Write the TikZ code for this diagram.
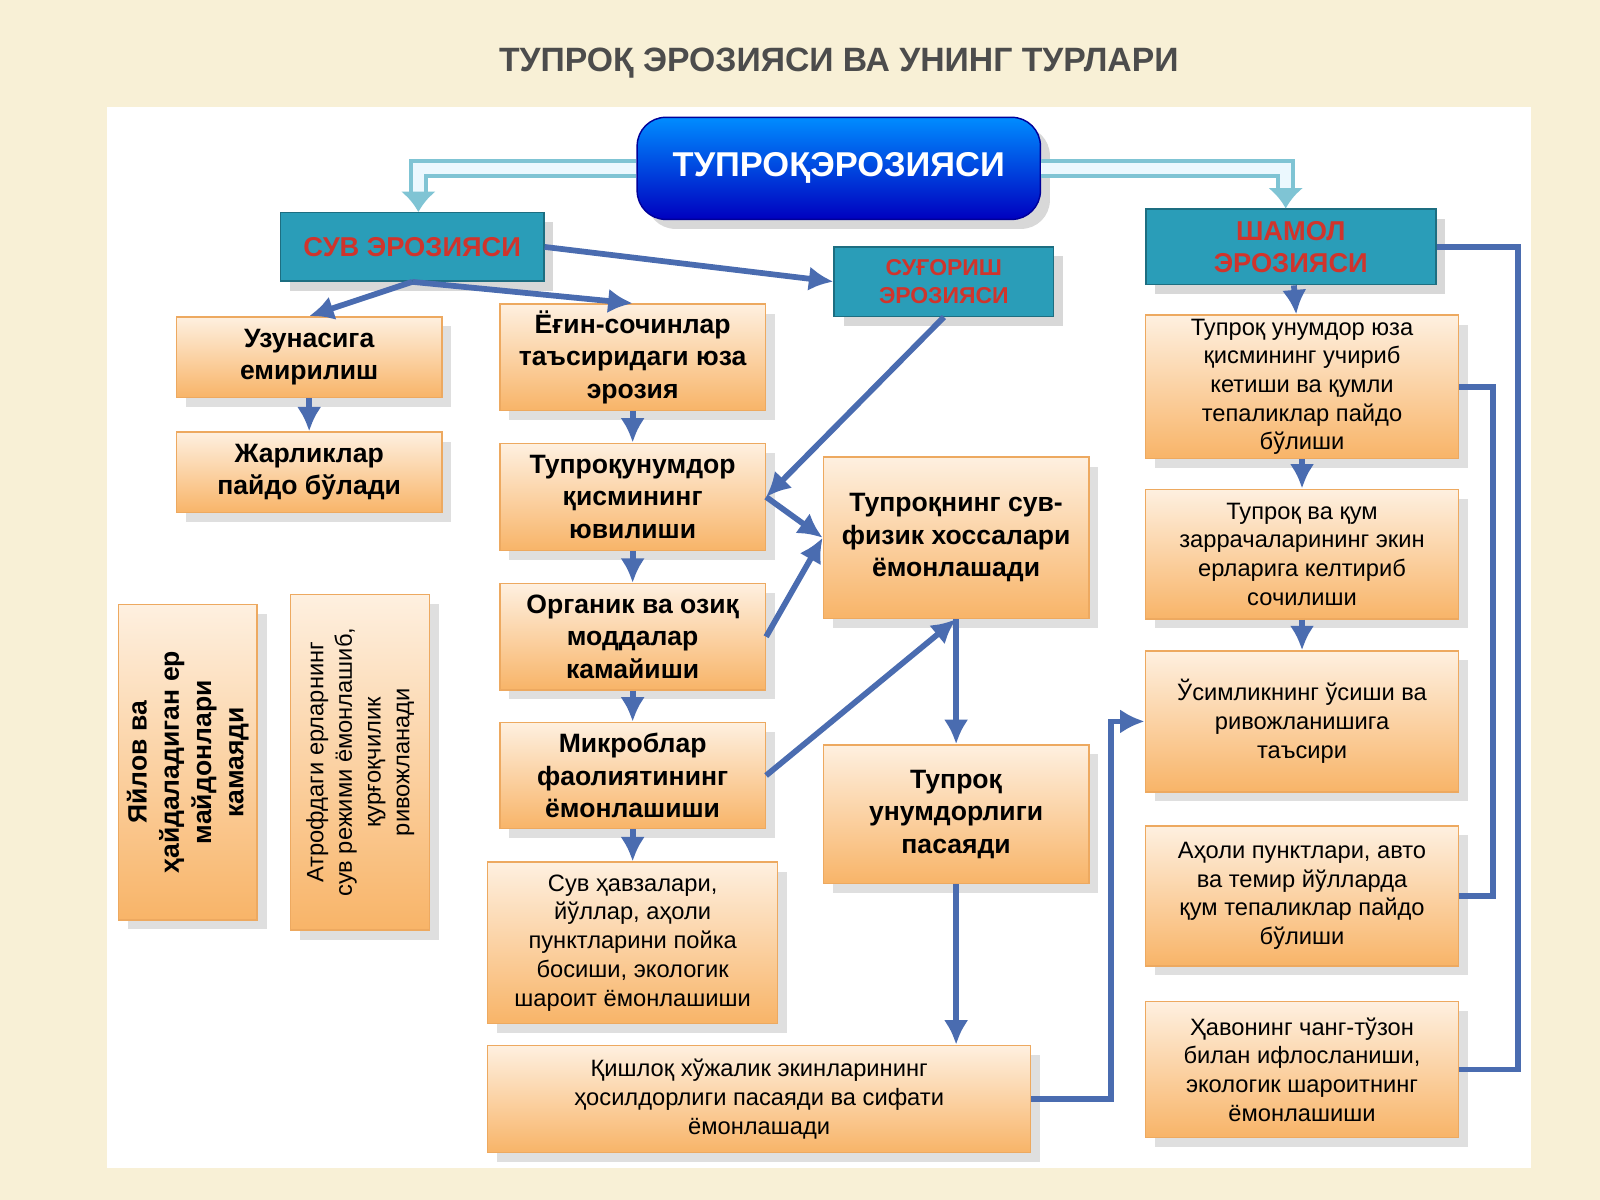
\documentclass[tikz,border=0pt]{standalone}
\usepackage{fontspec}
\setmainfont{Liberation Sans}
\usetikzlibrary{arrows.meta,positioning,shadows}
\definecolor{cream}{HTML}{F8F0D6}
\definecolor{teal}{HTML}{2A9DB8}
\definecolor{redt}{HTML}{D0342C}
\definecolor{lnk}{HTML}{4A6CB0}
\definecolor{ora}{HTML}{F8B468}
\definecolor{pea}{HTML}{FEF0E0}
\begin{document}
\begin{tikzpicture}[x=0.01cm,y=-0.01cm,font=\fontsize{7.4}{9}\selectfont]
  % Node styles
  \tikzstyle{comp}=[draw=ora!80!brown,top color=pea,bottom color=ora,align=center,inner sep=1pt,drop shadow={opacity=0.25}]
  \tikzstyle{head}=[draw=teal!70!black,fill=teal,align=center,text=redt,font=\fontsize{7.6}{9}\selectfont\bfseries,drop shadow={opacity=0.3}]
  \tikzstyle{link}=[draw=lnk,line width=1.6pt,-{Latex[length=2.4mm,width=2.4mm]}]
  \tikzstyle{side}=[draw=lnk,line width=1.6pt]
  \tikzstyle{dbl}=[draw=teal!60,double=cyan!8,double distance=3pt,line width=1.2pt,-{Latex[length=2mm,width=3.5mm]}]

  \fill[cream] (0,0) rectangle (1568,1176);
  \useasboundingbox (0,0) rectangle (1568,1176);
  \fill[white] (105,105) rectangle (1500,1145);
  \node[font=\fontsize{9.4}{11}\selectfont\bfseries,text=black!70] (title) at (822,62) {ТУПРОҚ ЭРОЗИЯСИ ВА УНИНГ ТУРЛАРИ};

  % Headers
  \node[draw=blue!60!black,rounded corners=8pt,top color=blue!45!cyan,bottom color=blue!75!black,minimum width=3.95cm,minimum height=1cm,text=white,font=\fontsize{9.6}{11}\selectfont\bfseries,drop shadow={opacity=0.3}] (main) at (822,165) {ТУПРОҚЭРОЗИЯСИ};
  \node[head,minimum width=2.58cm,minimum height=0.67cm] (suv) at (404,242) {СУВ ЭРОЗИЯСИ};
  \node[head,minimum width=2.15cm,minimum height=0.68cm,font=\fontsize{6.4}{7.6}\selectfont\bfseries] (sug) at (925,276) {СУҒОРИШ\\ЭРОЗИЯСИ};
  \node[head,minimum width=2.84cm,minimum height=0.67cm] (sham) at (1265,242) {ШАМОЛ\\ЭРОЗИЯСИ};

  % Left boxes
  \node[comp,font=\fontsize{7.4}{9}\selectfont\bfseries,minimum width=2.6cm,minimum height=0.79cm] (uzun) at (303,350) {Узунасига\\емирилиш};
  \node[comp,font=\fontsize{7.4}{9}\selectfont\bfseries,minimum width=2.6cm,minimum height=0.79cm] (jar) at (303,463) {Жарликлар\\пайдо бўлади};
  \node[comp,font=\fontsize{7.4}{9}\selectfont\bfseries,minimum width=2.6cm,minimum height=1.04cm] (yogin) at (620,350) {Ёғин-сочинлар\\таъсиридаги юза\\эрозия};
  \node[comp,font=\fontsize{7.4}{9}\selectfont\bfseries,minimum width=2.6cm,minimum height=1.05cm] (yuv) at (620,487) {Тупроқунумдор\\қисмининг\\ювилиши};
  \node[comp,font=\fontsize{7.4}{9}\selectfont\bfseries,minimum width=2.6cm,minimum height=1.04cm] (org) at (620,624) {Органик ва озиқ\\моддалар\\камайиши};
  \node[comp,font=\fontsize{7.4}{9}\selectfont\bfseries,minimum width=2.6cm,minimum height=1.04cm] (mik) at (620,760) {Микроблар\\фаолиятининг\\ёмонлашиши};
  \node[comp,font=\fontsize{6.6}{8}\selectfont,minimum width=2.84cm,minimum height=1.58cm] (havz) at (620,924) {Сув ҳавзалари,\\йўллар, аҳоли\\пунктларини пойка\\босиши, экологик\\шароит ёмонлашиши};
  \node[comp,font=\fontsize{6.6}{8}\selectfont,minimum width=5.32cm,minimum height=1.05cm] (qish) at (744,1077) {Қишлоқ хўжалик экинларининг\\ҳосилдорлиги пасаяди ва сифати\\ёмонлашади};
  \node[comp,font=\fontsize{7.4}{9}\selectfont\bfseries,minimum width=2.6cm,minimum height=1.58cm] (fiz) at (937,527) {Тупроқнинг сув-\\физик хоссалари\\ёмонлашади};
  \node[comp,font=\fontsize{7.4}{9}\selectfont\bfseries,minimum width=2.6cm,minimum height=1.36cm] (unum) at (937,798) {Тупроқ\\унумдорлиги\\пасаяди};
  \node[comp,font=\fontsize{7.4}{9}\selectfont\bfseries,minimum width=3.09cm,minimum height=1.36cm,rotate=90] (yay) at (184,747) {Яйлов ва\\ҳайдаладиган ер\\майдонлари\\камаяди};
  \node[comp,font=\fontsize{6.6}{8}\selectfont,minimum width=3.29cm,minimum height=1.36cm,rotate=90] (atr) at (353,747) {Атрофдаги ерларнинг\\сув режими ёмонлашиб,\\қурғоқчилик\\ривожланади};

  % Right column
  \node[comp,font=\fontsize{6.6}{8}\selectfont,minimum width=3.07cm,minimum height=1.36cm] (r1) at (1276,379) {Тупроқ унумдор юза\\қисмининг учириб\\кетиши ва қумли\\тепаликлар пайдо\\бўлиши};
  \node[comp,font=\fontsize{6.6}{8}\selectfont,minimum width=3.07cm,minimum height=1.27cm] (r2) at (1276,543) {Тупроқ ва қум\\заррачаларининг экин\\ерларига келтириб\\сочилиши};
  \node[comp,font=\fontsize{6.6}{8}\selectfont,minimum width=3.07cm,minimum height=1.38cm] (r3) at (1276,707) {Ўсимликнинг ўсиши ва\\ривожланишига\\таъсири};
  \node[comp,font=\fontsize{6.6}{8}\selectfont,minimum width=3.07cm,minimum height=1.37cm] (r4) at (1276,878) {Аҳоли пунктлари, авто\\ва темир йўлларда\\қум тепаликлар пайдо\\бўлиши};
  \node[comp,font=\fontsize{6.6}{8}\selectfont,minimum width=3.07cm,minimum height=1.33cm] (r5) at (1276,1048) {Ҳавонинг чанг-тўзон\\билан ифлосланиши,\\экологик шароитнинг\\ёмонлашиши};

  % Connections
  \draw[dbl] (main.west) -- (410,165) -- (suv.north -| 410,0);
  \draw[dbl] (main.east) -- (1260,165) -- (sham.north -| 1260,0);
  \draw[link] (suv.south) -- (uzun.north);
  \draw[link] (suv.south) -- (yogin.north);
  \draw[link] (suv.east) -- (sug.west);
  \draw[link] (uzun) -- (jar);
  \draw[link] (yogin) -- (yuv);
  \draw[link] (yuv) -- (org);
  \draw[link] (org) -- (mik);
  \draw[link] (mik) -- (havz);
  \draw[link] (sug.south) -- (yuv.east);
  \draw[link] (yuv.east) -- (fiz.west);
  \draw[link] (org.east) -- (fiz.west);
  \draw[link] (mik.east) -- (fiz.south);
  \draw[link] (fiz) -- (unum);
  \draw[link] (unum) -- (qish.north -| unum);
  \draw[link] (qish.east) -- ++(78,0) |- (r3.west);
  \draw[link] (sham) -- (r1);
  \draw[link] (r1) -- (r2);
  \draw[link] (r2) -- (r3);
  \draw[side] (sham.east) -- ++(80,0) |- (r5.east);
  \draw[side] (r1.east) -- ++(33,0) |- (r4.east);
\end{tikzpicture}
\end{document}
